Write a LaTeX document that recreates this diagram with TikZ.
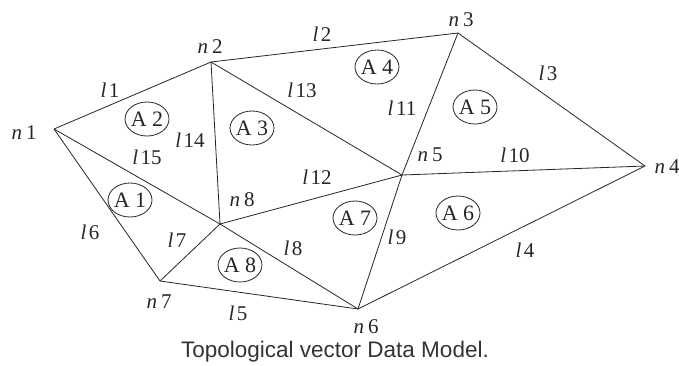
\documentclass[tikz,border=0pt]{standalone}
\usepackage{fontspec}
\setmainfont{Liberation Serif}
\newfontfamily\capfont{Liberation Sans}
\usetikzlibrary{shapes.geometric}
\tikzset{
  edge/.style={line width=0.8pt, draw=black!85},
  lbl/.style={font=\fontsize{21}{22}\selectfont, inner sep=0pt, text=black!85},
  area/.style={ellipse, draw=black!85, line width=0.8pt, minimum width=44pt, minimum height=34pt, inner sep=-4pt, font=\fontsize{22}{23}\selectfont, text=black!85},
}
\newcommand{\nodelab}[1]{\textit{n}\kern4pt#1}
\newcommand{\linelab}[1]{\textit{l}\kern2.5pt#1}
\begin{document}
\begin{tikzpicture}[x=1pt,y=-1pt]
\useasboundingbox (0,0) rectangle (679,365);
% vertices
\coordinate (n1) at (54,129);
\coordinate (n2) at (211,62);
\coordinate (n3) at (458,33);
\coordinate (n4) at (645,166);
\coordinate (n5) at (402,175);
\coordinate (n6) at (358,309);
\coordinate (n7) at (160,281);
\coordinate (n8) at (220,224);
% edges
\draw[edge] (n1) -- (n2);
\draw[edge] (n2) -- (n3);
\draw[edge] (n3) -- (n4);
\draw[edge] (n4) -- (n6);
\draw[edge] (n6) -- (n7);
\draw[edge] (n7) -- (n1);
\draw[edge] (n7) -- (n8);
\draw[edge] (n8) -- (n6);
\draw[edge] (n6) -- (n5);
\draw[edge] (n5) -- (n4);
\draw[edge] (n5) -- (n3);
\draw[edge] (n8) -- (n5);
\draw[edge] (n2) -- (n5);
\draw[edge] (n2) -- (n8);
\draw[edge] (n1) -- (n8);
% node labels
\node[lbl] (t1) at (24,133) {\nodelab{1}};
\node[lbl] (t2) at (210,47) {\nodelab{2}};
\node[lbl] (t3) at (461,20) {\nodelab{3}};
\node[lbl] (t4) at (667,167) {\nodelab{4}};
\node[lbl] (t5) at (430,155) {\nodelab{5}};
\node[lbl] (t6) at (366,327) {\nodelab{6}};
\node[lbl] (t7) at (159,302) {\nodelab{7}};
\node[lbl] (t8) at (242,200) {\nodelab{8}};
% line labels
\node[lbl] (l1) at (110,90) {\linelab{1}};
\node[lbl] (l2) at (322,34) {\linelab{2}};
\node[lbl] (l3) at (548,73) {\linelab{3}};
\node[lbl] (l4) at (525,250) {\linelab{4}};
\node[lbl] (l5) at (238,313) {\linelab{5}};
\node[lbl] (l6) at (90,232) {\linelab{6}};
\node[lbl] (l7) at (177,240) {\linelab{7}};
\node[lbl] (l8) at (293,248) {\linelab{8}};
\node[lbl] (l9) at (397,237) {\linelab{9}};
\node[lbl] (l10) at (515,155) {\linelab{10}};
\node[lbl] (l11) at (402,108) {\linelab{11}};
\node[lbl] (l12) at (317,177) {\linelab{12}};
\node[lbl] (l13) at (302,90) {\linelab{13}};
\node[lbl] (l14) at (190,140) {\linelab{14}};
\node[lbl] (l15) at (147,157) {\linelab{15}};
% areas
\node[area] (A1) at (130,200) {A 1};
\node[area] (A2) at (147,119) {A 2};
\node[area] (A3) at (252,128) {A 3};
\node[area] (A4) at (377,67) {A 4};
\node[area] (A5) at (475,107) {A 5};
\node[area] (A6) at (458,213) {A 6};
\node[area] (A7) at (355,218) {A 7};
\node[area] (A8) at (240,265) {A 8};
% caption
\node[inner sep=0pt, font=\capfont\fontsize{22.5}{23}\selectfont, text=black!80] (cap) at (335,352) {Topological vector Data Model.};
\end{tikzpicture}
\end{document}
